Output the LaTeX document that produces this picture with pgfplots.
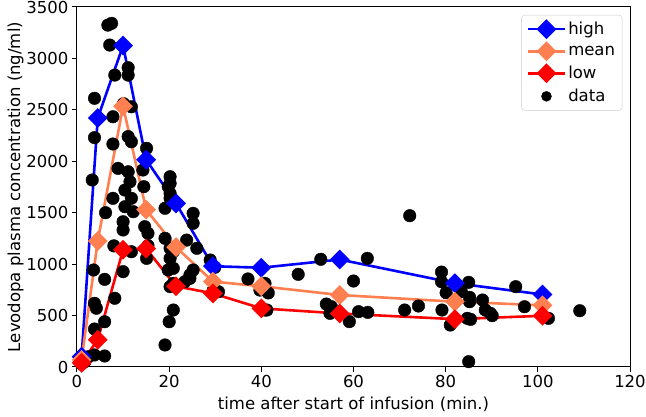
\documentclass[border=0pt]{standalone}
\usepackage{pgfplots}
\pgfplotsset{compat=1.18}
\usepackage{fontspec}
\setmainfont{DejaVu Sans}
\definecolor{hiblue}{RGB}{0,0,255}
\definecolor{meancoral}{RGB}{255,127,80}
\definecolor{lowred}{RGB}{255,0,0}

\pgfplotstableread{
t v
1.0 30
1.7 52
2.5 100
3.8 117
6.0 107
3.8 369
6.0 440
4.2 571
3.8 619
8.2 668
3.6 943
6.0 852
10.0 927
8.0 1178
11.8 1121
10.0 1332
10.0 1412
6.2 1500
7.8 1640
10.4 1558
11.8 1640
12.2 1510
11.5 1801
10.4 1720
11.1 1898
8.9 1931
3.3 1818
3.8 2230
7.8 2168
11.1 2240
11.8 2190
15.1 2126
14.3 1915
14.5 1753
15.4 1300
14.7 1364
15.4 1180
15.1 1056
7.8 2433
3.8 2612
11.8 2530
10.1 2560
8.2 2838
11.1 2838
11.1 2910
7.1 3130
6.7 3324
7.5 3341
19.1 214
20.0 440
20.9 554
20.2 781
20.9 813
19.8 943
20.9 959
20.2 1056
19.1 1251
20.2 1154
20.9 1121
19.1 1543
20.2 1640
20.2 1688
19.8 1753
20.2 1850
20.2 1785
23.4 829
24.5 862
24.5 894
25.2 943
23.8 1234
26.0 1154
25.2 1397
25.2 1494
28.9 1040
29.9 969
30.7 732
29.6 748
37.1 856
40.8 813
41.5 720
39.7 748
40.8 554
41.2 554
48.0 901
52.9 1047
54.1 612
55.2 586
54.9 522
59.1 441
60.0 836
61.1 538
63.1 531
63.0 1056
71.1 554
72.2 1471
74.1 593
79.1 923
79.1 829
80.1 722
79.2 554
81.0 408
83.4 732
85.0 823
85.2 677
85.2 635
84.7 473
85.4 463
85.0 52
88.0 651
88.6 554
89.7 522
90.1 499
95.2 781
97.1 586
102.3 473
109.1 547
}\datatable

\begin{document}
\begin{tikzpicture}[font=\fontsize{16.5}{19}\selectfont]
\path[use as bounding box] (-77pt,-50pt) rectangle (569pt,367pt);
\begin{axis}[
  at={(0,0)}, anchor=south west,
  scale only axis, width=553pt, height=360pt,
  xmin=0, xmax=120, ymin=0, ymax=3500,
  xtick={0,20,...,120}, ytick={0,500,...,3500},
  tick align=outside, tick pos=left, major tick length=5pt,
  tick style={black, line width=1pt},
  axis line style={line width=1pt},
  /pgf/number format/assume math mode=true,
  /pgf/number format/1000 sep={},
  ticklabel style={font=\fontsize{16.5}{19}\selectfont},
  xlabel={time after start of infusion (min.)},
  ylabel={Levodopa plasma concentration (ng/ml)},
  xlabel style={at={(axis description cs:0.5,-0.1194)}, anchor=base},
  ylabel style={at={(axis description cs:-0.103,0.5)}, anchor=base, rotate=0},
  legend style={at={(0.986,0.978)}, anchor=north east, draw=black!20,
    rounded corners=3pt, fill=white, font=\fontsize{16.5}{19}\selectfont,
    row sep=5pt, inner sep=5pt},
  legend cell align=left,
  legend image code/.code={
    \draw[#1, mark repeat=2, mark phase=2] plot coordinates {(0cm,0cm) (0.65cm,0cm) (1.3cm,0cm)};
  },
]
\addplot[only marks, mark=*, mark size=6.3pt, black, forget plot] table[x=t, y=v] {\datatable};
\addplot[hiblue, line width=2.6pt, mark=square*, mark options={rotate=45, solid}, mark size=5.7pt]
  coordinates {(1,100) (4.5,2420) (10,3125) (15,2015) (21.5,1590) (29.5,980) (40,965) (57,1045) (82,815) (101,705)};
\addlegendentry{high}
\addplot[meancoral, line width=2.6pt, mark=square*, mark options={rotate=45, solid}, mark size=5.7pt]
  coordinates {(1,70) (4.5,1225) (10,2535) (15,1530) (21.5,1165) (29.5,830) (40,785) (57,700) (82,635) (101,600)};
\addlegendentry{mean}
\addplot[lowred, line width=2.6pt, mark=square*, mark options={rotate=45, solid}, mark size=5.7pt]
  coordinates {(1,40) (4.5,265) (10,1140) (15,1150) (21.5,785) (29.5,715) (40,570) (57,520) (82,465) (101,498)};
\addlegendentry{low}
\addlegendimage{only marks, mark=*, mark size=5pt, black}
\addlegendentry{data}
\end{axis}
\end{tikzpicture}
\end{document}
